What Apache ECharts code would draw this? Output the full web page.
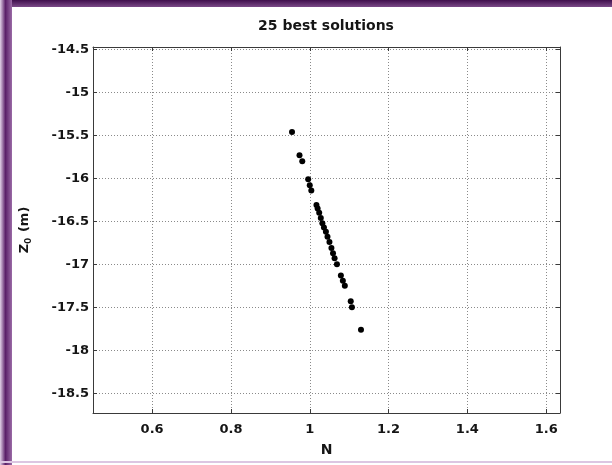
<!DOCTYPE html>
<html>
<head>
<meta charset="utf-8">
<style>
  html, body { margin: 0; padding: 0; background: #ffffff; }
  #chart { width: 612px; height: 465px; }
</style>
<script src="https://cdn.jsdelivr.net/npm/echarts@6/dist/echarts.min.js"></script>
</head>
<body>
<div id="chart"></div>
<script>
// Refraction index N and source depth Z0 of the 25 best solutions
const nValues = [0.955, 0.974, 0.981, 0.996, 1.000, 1.004, 1.017, 1.020, 1.024, 1.028,
                 1.032, 1.036, 1.041, 1.045, 1.050, 1.055, 1.059, 1.063, 1.069, 1.079,
                 1.084, 1.089, 1.104, 1.107, 1.130];
const z0Values = [-15.46, -15.73, -15.80, -16.01, -16.08, -16.14, -16.31, -16.35, -16.40, -16.46,
                  -16.52, -16.57, -16.62, -16.68, -16.74, -16.81, -16.87, -16.93, -17.00, -17.13,
                  -17.19, -17.25, -17.43, -17.50, -17.76];

// Tick labels shown on the axes
const xTickLabels = [0.6, 0.8, 1, 1.2, 1.4, 1.6];
const yTickLabels = [-14.5, -15, -15.5, -16, -16.5, -17, -17.5, -18, -18.5];

const titleText = '25 best solutions';

const points = nValues.map((n, i) => [n, z0Values[i]]);

const onTick = (list, v) => list.some(t => Math.abs(t - v) < 1e-6);
const fontFamily = '"DejaVu Sans", Arial, sans-serif';
const textColor = '#151515';

const xRange = { min: 0.45, max: 1.635 };
const yRange = { min: -18.73, max: -14.47 };

const frameLine = { show: true, onZero: false, lineStyle: { color: '#3a3a3a', width: 1 } };
const gridDots = { show: true, lineStyle: { color: '#8a8a8a', width: 1, type: [1, 2] } };
const innerTicks = { show: true, inside: true, length: 4, lineStyle: { color: '#3a3a3a' } };
const labelStyle = { color: textColor, fontSize: 13, fontWeight: 'bold', fontFamily };

const chart = echarts.init(document.getElementById('chart'), null, { renderer: 'canvas' });

chart.setOption({
  animation: false,
  backgroundColor: '#ffffff',
  grid: { left: 93, right: 52, top: 47, bottom: 52, containLabel: false },
  xAxis: [
    {
      type: 'value', position: 'bottom', min: xRange.min, max: xRange.max,
      minInterval: 0.2, maxInterval: 0.2,
      name: 'N', nameLocation: 'middle', nameGap: 30,
      nameTextStyle: { color: textColor, fontSize: 14, fontWeight: 'bold', fontFamily },
      axisLine: frameLine, axisTick: innerTicks, splitLine: gridDots,
      axisLabel: Object.assign({
        margin: 10,
        formatter: v => onTick(xTickLabels, v) ? String(+v.toFixed(2)) : ''
      }, labelStyle)
    },
    {
      type: 'value', position: 'top', min: xRange.min, max: xRange.max,
      minInterval: 0.2, maxInterval: 0.2,
      axisLine: frameLine, axisTick: innerTicks, splitLine: { show: false },
      axisLabel: { show: false }
    }
  ],
  yAxis: [
    {
      type: 'value', position: 'left', min: yRange.min, max: yRange.max,
      minInterval: 0.5, maxInterval: 0.5,
      name: 'Z{sub|0} (m)', nameLocation: 'middle', nameGap: 60, nameRotate: 90,
      nameTextStyle: {
        color: textColor, fontSize: 13, fontWeight: 'bold', fontFamily,
        rich: { sub: { fontSize: 9, fontWeight: 'bold', fontFamily, color: textColor, padding: [8, 1, 0, 0] } }
      },
      axisLine: frameLine, axisTick: innerTicks, splitLine: gridDots,
      axisLabel: Object.assign({
        margin: 4,
        formatter: v => onTick(yTickLabels, v) ? String(+v.toFixed(2)) : ''
      }, labelStyle)
    },
    {
      type: 'value', position: 'right', min: yRange.min, max: yRange.max,
      minInterval: 0.5, maxInterval: 0.5,
      axisLine: frameLine, axisTick: innerTicks, splitLine: { show: false },
      axisLabel: { show: false }
    }
  ],
  series: [{
    type: 'scatter',
    xAxisIndex: 0, yAxisIndex: 0,
    data: points,
    symbol: 'circle', symbolSize: 6,
    itemStyle: { color: '#000000', opacity: 1 }
  }],
  graphic: [
    // window frame: dark band on top, purple edge on the left, faint line at the bottom
    { type: 'rect', shape: { x: 0, y: 0, width: 612, height: 7 },
      style: { fill: new echarts.graphic.LinearGradient(0, 0, 0, 1, [
        { offset: 0, color: '#3f0f4c' }, { offset: 1, color: '#7b4a88' }]) }, z: 10 },
    { type: 'rect', shape: { x: 0, y: 0, width: 12, height: 465 },
      style: { fill: new echarts.graphic.LinearGradient(0, 0, 1, 0, [
        { offset: 0, color: '#e2d2e8' }, { offset: 0.45, color: '#5a1f68' }, { offset: 1, color: '#9a6aa6' }]) }, z: 10 },
    { type: 'rect', shape: { x: 0, y: 461, width: 612, height: 2 },
      style: { fill: '#dcc6e2' }, z: 10 },
    // title
    { type: 'text', x: 326, y: 26, z: 10,
      style: { text: titleText, textAlign: 'center', textVerticalAlign: 'middle',
               fill: textColor, font: 'bold 14px ' + fontFamily } }
  ]
});
</script>
</body>
</html>
